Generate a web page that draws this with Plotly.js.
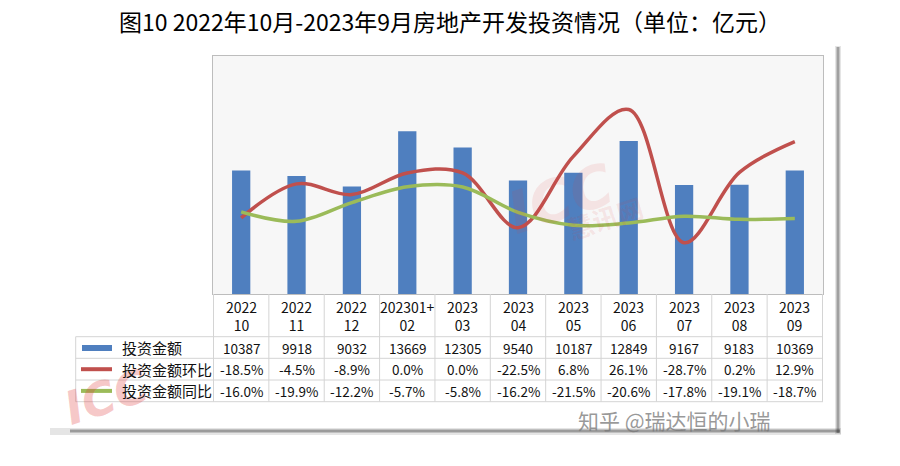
<!DOCTYPE html>
<html><head><meta charset="utf-8">
<script src="https://cdn.plot.ly/plotly-3.0.1.min.js"></script>
<style>html,body{margin:0;padding:0;background:#fff}</style>
</head><body><div id="chart" style="width:900px;height:466px"></div>
<script>
const categories = ['2022-10','2022-11','2022-12','202301+02','2023-03','2023-04','2023-05','2023-06','2023-07','2023-08','2023-09'];
const headerTop = ['2022','2022','2022','202301+','2023','2023','2023','2023','2023','2023','2023'];
const headerBottom = ['10','11','12','02','03','04','05','06','07','08','09'];
const investment = [10387, 9918, 9032, 13669, 12305, 9540, 10187, 12849, 9167, 9183, 10369];
const momPct = [-18.5, -4.5, -8.9, 0.0, 0.0, -22.5, 6.8, 26.1, -28.7, 0.2, 12.9];
const yoyPct = [-16.0, -19.9, -12.2, -5.7, -5.8, -16.2, -21.5, -20.6, -17.8, -19.1, -18.7];
const seriesNames = ['投资金额', '投资金额环比', '投资金额同比'];
const titleText = '图10 2022年10月-2023年9月房地产开发投资情况（单位：亿元）';

const BLUE = '#4f7fbf', RED = '#c0504d', GREEN = '#9bbb59', GRID = '#d4d4d4';
const FONT = '"Noto Sans CJK SC", "Noto Sans", sans-serif';

// pixel -> paper helpers (plot area: x 213..823, y 56..294)
const L = 213, R = 823, T = 56, B = 294;
const px = p => (p - L) / (R - L);
const py = p => (B - p) / (B - T);

const traces = [
  {type: 'bar', x: categories, y: investment, name: seriesNames[0],
   marker: {color: BLUE}, yaxis: 'y'},
  {type: 'scatter', mode: 'lines', x: categories, y: momPct, name: seriesNames[1],
   line: {color: RED, width: 3.5, shape: 'spline', smoothing: 1}, yaxis: 'y2'},
  {type: 'scatter', mode: 'lines', x: categories, y: yoyPct, name: seriesNames[2],
   line: {color: GREEN, width: 3.5, shape: 'spline', smoothing: 1}, yaxis: 'y2'}
];

const annotations = [];
const shapes = [];
const fmtPct = v => v.toFixed(1) + '%';
const rowY = [py(347.5), py(369.2), py(390.9)];
const rowText = [investment.map(String), momPct.map(fmtPct), yoyPct.map(fmtPct)];

// watermarks (drawn first so they sit beneath the table text)
annotations.push({xref: 'paper', yref: 'paper', x: px(55), y: py(438), text: '<b><i>ICC</i></b>', showarrow: false,
  textangle: -18, font: {family: 'DejaVu Sans', size: 46, color: 'rgba(225,60,60,0.28)'}});
annotations.push({xref: 'paper', yref: 'paper', x: px(560), y: py(250), text: '<b><i>ICC</i></b>', showarrow: false,
  textangle: -18, font: {family: 'DejaVu Sans', size: 58, color: 'rgba(225,60,60,0.10)'}});
annotations.push({xref: 'paper', yref: 'paper', x: px(650), y: py(250), text: '<b>慧讯网</b>', showarrow: false,
  textangle: -18, font: {family: FONT, size: 26, color: 'rgba(225,60,60,0.10)'}});

categories.forEach((c, i) => {
  annotations.push({xref: 'x', yref: 'paper', x: c, y: py(315.5), text: headerTop[i] + '<br>' + headerBottom[i], showarrow: false,
    font: {family: FONT, size: 14, color: '#111'}, xanchor: 'center', yanchor: 'middle'});
  rowText.forEach((row, r) => {
    annotations.push({xref: 'x', yref: 'paper', x: c, y: rowY[r], text: row[i], showarrow: false,
      font: {family: FONT, size: 13.5, color: '#111'}, xanchor: 'center', yanchor: 'middle'});
  });
});

// row labels
seriesNames.forEach((n, r) => {
  annotations.push({xref: 'paper', yref: 'paper', x: px(120), y: rowY[r], text: n, showarrow: false,
    font: {family: FONT, size: 15, color: '#111'}, xanchor: 'left', yanchor: 'middle'});
});

// legend keys
shapes.push({type: 'rect', xref: 'paper', yref: 'paper', x0: px(82), x1: px(112), y0: py(345), y1: py(351),
  fillcolor: BLUE, line: {width: 0}});
shapes.push({type: 'line', xref: 'paper', yref: 'paper', x0: px(81), x1: px(112), y0: rowY[1], y1: rowY[1],
  line: {color: RED, width: 4}});
shapes.push({type: 'line', xref: 'paper', yref: 'paper', x0: px(81), x1: px(112), y0: rowY[2], y1: rowY[2],
  line: {color: GREEN, width: 4}});

// table grid
for (let i = 0; i <= categories.length; i++) {
  shapes.push({type: 'line', xref: 'x', yref: 'paper', x0: i - 0.5, x1: i - 0.5, y0: py(294), y1: py(401.7),
    line: {color: GRID, width: 1}});
}
[336.7, 358.3, 380, 401.7].forEach(y => {
  shapes.push({type: 'line', xref: 'paper', yref: 'paper', x0: px(75.7), x1: 1, y0: py(y), y1: py(y),
    line: {color: GRID, width: 1}});
});
shapes.push({type: 'line', xref: 'paper', yref: 'paper', x0: px(75.7), x1: px(75.7), y0: py(336.7), y1: py(401.7),
  line: {color: GRID, width: 1}});

// frame shadow
shapes.push({type: 'rect', xref: 'paper', yref: 'paper', x0: px(835), x1: px(841), y0: py(46), y1: py(434),
  fillcolor: 'rgba(0,0,0,0.10)', line: {width: 0}, layer: 'below'});
shapes.push({type: 'rect', xref: 'paper', yref: 'paper', x0: px(836.5), x1: px(839.5), y0: py(47), y1: py(433),
  fillcolor: 'rgba(0,0,0,0.30)', line: {width: 0}, layer: 'below'});
shapes.push({type: 'rect', xref: 'paper', yref: 'paper', x0: px(50), x1: px(841), y0: py(428), y1: py(435),
  fillcolor: 'rgba(0,0,0,0.10)', line: {width: 0}, layer: 'below'});
shapes.push({type: 'rect', xref: 'paper', yref: 'paper', x0: px(70), x1: px(840), y0: py(429.5), y1: py(432.5),
  fillcolor: 'rgba(0,0,0,0.32)', line: {width: 0}, layer: 'below'});

annotations.push({xref: 'paper', yref: 'paper', x: px(772), y: py(436), text: '知乎 @瑞达恒的小瑞', showarrow: false,
  font: {family: FONT, size: 21, color: 'rgba(120,120,120,0.75)'}, borderpad: 0});

const layout = {
  width: 900, height: 466,
  margin: {l: L, r: 900 - R, t: T, b: 466 - B, pad: 0},
  paper_bgcolor: '#ffffff', plot_bgcolor: '#f7f7f7',
  showlegend: false,
  bargap: 0.67,
  title: {text: titleText, x: 0.5, xref: 'container', xanchor: 'center', y: 1 - 23 / 466, yref: 'container', yanchor: 'middle',
    font: {family: FONT, size: 23, color: '#000'}},
  xaxis: {type: 'category', categoryorder: 'array', categoryarray: categories, showticklabels: false, ticks: '',
    showgrid: false, zeroline: false, showline: true, linecolor: '#bdbdbd', linewidth: 1, mirror: true, fixedrange: true},
  yaxis: {range: [0, 20000], visible: true, showticklabels: false, showgrid: false, zeroline: false, ticks: '',
    showline: true, linecolor: '#bdbdbd', linewidth: 1, mirror: true},
  yaxis2: {range: [-49.8, 48.1], overlaying: 'y', side: 'right', visible: false, showgrid: false, zeroline: false},
  annotations: annotations,
  shapes: shapes,
  font: {family: FONT}
};

Plotly.newPlot('chart', traces, layout, {displayModeBar: false, staticPlot: true});
</script></body></html>
